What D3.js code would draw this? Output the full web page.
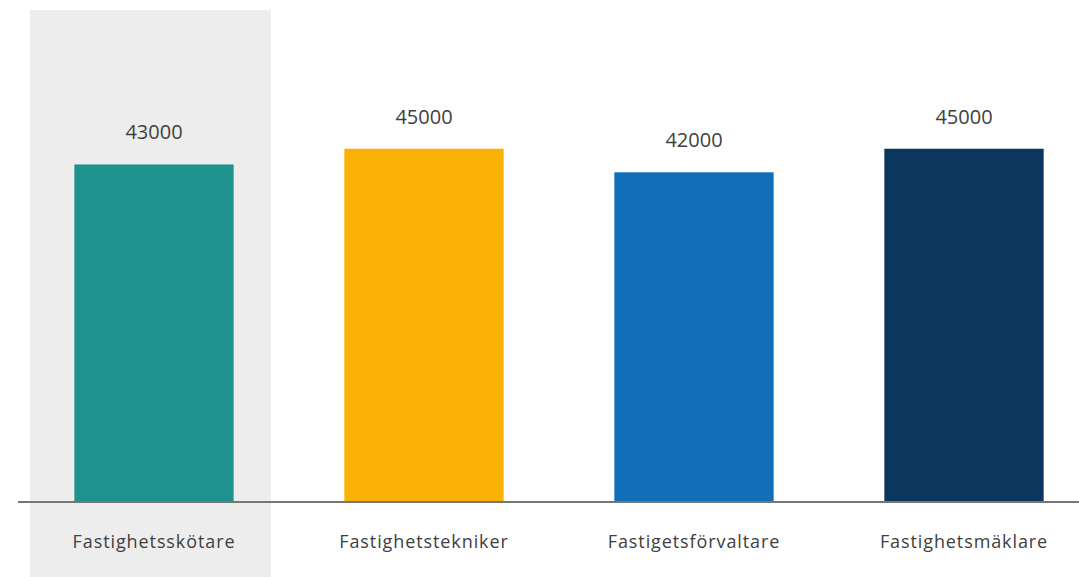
<!DOCTYPE html>
<html><head><meta charset="utf-8">
<script src="https://cdn.jsdelivr.net/npm/d3@7"></script>
<style>
html,body{margin:0;padding:0;background:#fff;}
svg{display:block;}
text{font-family:"Open Sans",sans-serif;fill:#404040;}
</style></head>
<body><svg id="c" width="1079" height="577"></svg>
<script>
const categories = ["Fastighetsskötare","Fastighetstekniker","Fastigetsförvaltare","Fastighetsmäklare"];
const values = [43000, 45000, 42000, 45000];
const colors = ["#1f9290","#fbb207","#116eb8","#0b375e"];
const highlighted = "Fastighetsskötare";

const svg = d3.select("#c");
const x = d3.scaleBand().domain(categories).range([19,1099]).paddingInner(0.41).paddingOuter(0.205);
const y = d3.scaleLinear().domain([0,60000]).range([502,31]);

// highlight background
const hc = x(highlighted) + x.bandwidth()/2;
svg.append("rect").attr("x", hc-124).attr("y",10).attr("width",241).attr("height",567).attr("fill","#ededed");

svg.selectAll("rect.bar").data(values).enter().append("rect").attr("class","bar")
  .attr("x",(d,i)=>x(categories[i]))
  .attr("y",d=>y(d))
  .attr("width",x.bandwidth())
  .attr("height",d=>y(0)-y(d))
  .attr("fill",(d,i)=>colors[i]);

svg.selectAll("text.val").data(values).enter().append("text").attr("class","val")
  .attr("x",(d,i)=>x(categories[i])+x.bandwidth()/2)
  .attr("y",d=>y(d)-25)
  .attr("text-anchor","middle")
  .style("font-size","20px")
  .text(d=>d);

const axis = d3.axisBottom(x).tickSize(0).tickPadding(0);
const g = svg.append("g").attr("transform","translate(0,502)").call(axis);
g.select(".domain").remove();
g.selectAll("text").attr("dy",null).attr("y",46)
  .style("font-family","'Open Sans',sans-serif").style("font-size","18px").style("fill","#404040")
  .style("letter-spacing","0.9px");
svg.append("line").attr("x1",18).attr("x2",1079).attr("y1",y(0)).attr("y2",y(0))
  .attr("stroke","#767676").attr("stroke-width",2);
</script></body></html>
